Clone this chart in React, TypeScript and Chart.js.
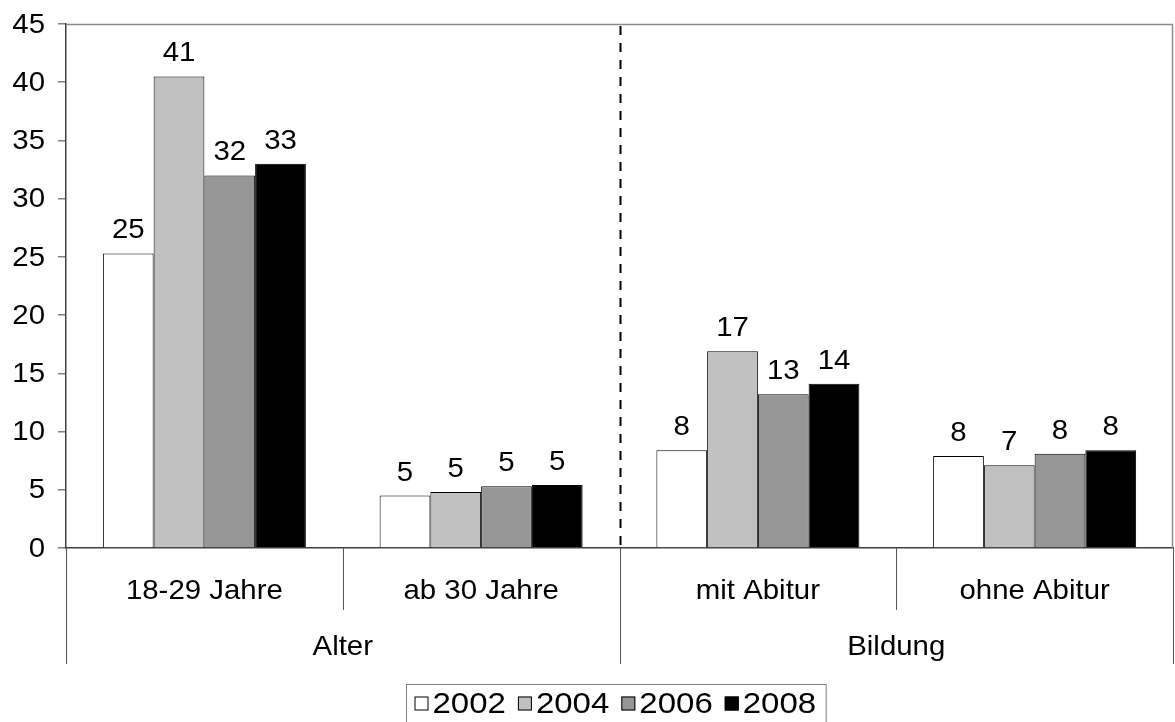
import React, { useEffect, useRef } from "react";
import { Chart, registerables } from "chart.js";

Chart.register(...registerables);

const categories = ["18-29 Jahre", "ab 30 Jahre", "mit Abitur", "ohne Abitur"];
const groupLabels = ["Alter", "Bildung"];
const groupStart = [0, 2];
const groupEnd = [1, 3];
const seriesNames = ["2002", "2004", "2006", "2008"];
const values2002 = [25.3, 4.5, 8.4, 7.9];
const values2004 = [40.5, 4.8, 16.9, 7.1];
const values2006 = [32.0, 5.3, 13.2, 8.1];
const values2008 = [33.0, 5.4, 14.1, 8.4];
const seriesColors = ["#FFFFFF", "#C0C0C0", "#969696", "#000000"];
const yMin = 0;
const yMax = 45;
const yStep = 5;

const FONT_FAMILY = "'Liberation Sans', Arial, sans-serif";
const FONT_SIZE = 28;
const LEGEND_FONT_SIZE = 30;
const SX = 1.05;

function drawText(
  ctx: CanvasRenderingContext2D,
  text: string,
  x: number,
  y: number,
  align: CanvasTextAlign,
  baseline: CanvasTextBaseline,
  sx: number = SX
) {
  ctx.save();
  ctx.translate(x, y);
  ctx.scale(sx, 1);
  ctx.textAlign = align;
  ctx.textBaseline = baseline;
  ctx.fillText(text, 0, 0);
  ctx.restore();
}

const overlayPlugin = {
  id: "overlay",
  afterDraw(chart: any) {
    const ctx = chart.ctx as CanvasRenderingContext2D;
    const { left, right, top, bottom } = chart.chartArea;
    const xs = chart.scales.x;
    const ys = chart.scales.y;
    ctx.save();

    // plot area border (top & right)
    ctx.strokeStyle = "#8c8c8c";
    ctx.lineWidth = 1.5;
    ctx.beginPath();
    ctx.moveTo(left, top + 0.5);
    ctx.lineTo(right - 0.5, top + 0.5);
    ctx.lineTo(right - 0.5, bottom);
    ctx.stroke();

    ctx.fillStyle = "#000";
    ctx.font = `${FONT_SIZE}px ${FONT_FAMILY}`;

    // y tick labels from the scale's ticks
    ys.ticks.forEach((t: any) => {
      const py = ys.getPixelForValue(t.value);
      drawText(ctx, String(t.value), left - 21, py + 1, "right", "middle");
    });

    // data labels
    chart.data.datasets.forEach((ds: any, i: number) => {
      const meta = chart.getDatasetMeta(i);
      meta.data.forEach((bar: any, j: number) => {
        const v = ds.data[j];
        drawText(ctx, String(Math.round(v)), bar.x, bar.y - 15, "center", "alphabetic");
      });
    });

    // boundaries
    const n = categories.length;
    const centers = categories.map((_, i) => xs.getPixelForValue(i));
    const boundary = (i: number) => {
      if (i <= 0) return left;
      if (i >= n) return right;
      return (centers[i - 1] + centers[i]) / 2;
    };

    // dashed separator between groups
    const mid = boundary(groupStart[1]);
    ctx.strokeStyle = "#000";
    ctx.lineWidth = 2;
    ctx.setLineDash([9, 8]);
    ctx.beginPath();
    ctx.moveTo(Math.round(mid) + 0.5, top + 2);
    ctx.lineTo(Math.round(mid) + 0.5, bottom);
    ctx.stroke();
    ctx.setLineDash([]);

    // multi-level axis lines
    ctx.strokeStyle = "#555";
    ctx.lineWidth = 1;
    for (let i = 0; i <= n; i++) {
      const bx = Math.round(boundary(i)) + 0.5;
      const isGroupEdge = i === 0 || i === n || groupStart.includes(i);
      ctx.beginPath();
      ctx.moveTo(bx, bottom);
      ctx.lineTo(bx, bottom + (isGroupEdge ? 116 : 62));
      ctx.stroke();
    }

    // category labels
    ctx.fillStyle = "#000";
    categories.forEach((c, i) => {
      drawText(ctx, c, centers[i], bottom + 43, "center", "middle");
    });

    // group labels
    groupLabels.forEach((g, k) => {
      const gx = (boundary(groupStart[k]) + boundary(groupEnd[k] + 1)) / 2;
      drawText(ctx, g, gx, bottom + 99, "center", "middle");
    });

    // legend
    ctx.font = `${LEGEND_FONT_SIZE}px ${FONT_FAMILY}`;
    const legendSX = 1.1;
    const sym = 14;
    const gapSym = 4;
    const gapItem = 12;
    const padL = 8;
    const padR = 10;
    const widths = seriesNames.map((s) => ctx.measureText(s).width * legendSX);
    let total = padL + padR;
    widths.forEach((w, i) => {
      total += sym + gapSym + w + (i < widths.length - 1 ? gapItem : 0);
    });
    const lx = Math.round(616 - total / 2) + 0.5;
    const ly = 684.5;
    ctx.strokeStyle = "#808080";
    ctx.lineWidth = 1;
    ctx.strokeRect(lx, ly, total, 60);
    let cx = lx + padL;
    const cy = ly + 19;
    chart.data.datasets.forEach((ds: any, i: number) => {
      ctx.fillStyle = ds.backgroundColor;
      ctx.fillRect(cx, cy - sym / 2, sym, sym);
      ctx.strokeStyle = "#000";
      ctx.strokeRect(cx + 0.5, cy - sym / 2 + 0.5, sym - 1, sym - 1);
      ctx.fillStyle = "#000";
      drawText(ctx, ds.label, cx + sym + gapSym, cy + 1, "left", "middle", legendSX);
      cx += sym + gapSym + widths[i] + gapItem;
    });

    ctx.restore();
  },
};

export default function App() {
  const canvasRef = useRef<HTMLCanvasElement | null>(null);

  useEffect(() => {
    const prevMargin = document.body.style.margin;
    document.body.style.margin = "0";
    const canvas = canvasRef.current;
    if (!canvas) return;
    const allValues = [values2002, values2004, values2006, values2008];
    const chart = new Chart(canvas, {
      type: "bar",
      data: {
        labels: categories,
        datasets: seriesNames.map((name, i) => ({
          label: name,
          data: allValues[i],
          backgroundColor: seriesColors[i],
          borderColor: "#000000",
          borderWidth: 1,
          borderSkipped: "bottom",
          categoryPercentage: 0.7335,
          barPercentage: 1.0,
        })),
      },
      options: {
        responsive: false,
        animation: false,
        events: [],
        layout: { padding: { top: 24, right: 2, left: 0, bottom: 0 } },
        plugins: {
          legend: { display: false },
          tooltip: { enabled: false },
          title: { display: false },
        },
        scales: {
          x: {
            type: "category",
            grid: { display: false, drawTicks: false },
            ticks: { display: false },
            border: { display: true, color: "#404040", width: 1.5 },
            afterFit: (scale: any) => {
              scale.height = 174;
            },
          },
          y: {
            min: yMin,
            max: yMax,
            ticks: {
              stepSize: yStep,
              display: false,
            },
            grid: {
              drawOnChartArea: false,
              drawTicks: true,
              tickLength: 8,
              color: "#808080",
              lineWidth: 1.5,
            },
            border: { display: true, color: "#404040", width: 1.5 },
            afterFit: (scale: any) => {
              scale.width = 66;
            },
          },
        },
      },
      plugins: [overlayPlugin],
    });
    return () => {
      chart.destroy();
      document.body.style.margin = prevMargin;
    };
  }, []);

  return (
    <canvas
      ref={canvasRef}
      width={1175}
      height={722}
      style={{ position: "absolute", left: 0, top: 0, width: 1175, height: 722 }}
    />
  );
}
